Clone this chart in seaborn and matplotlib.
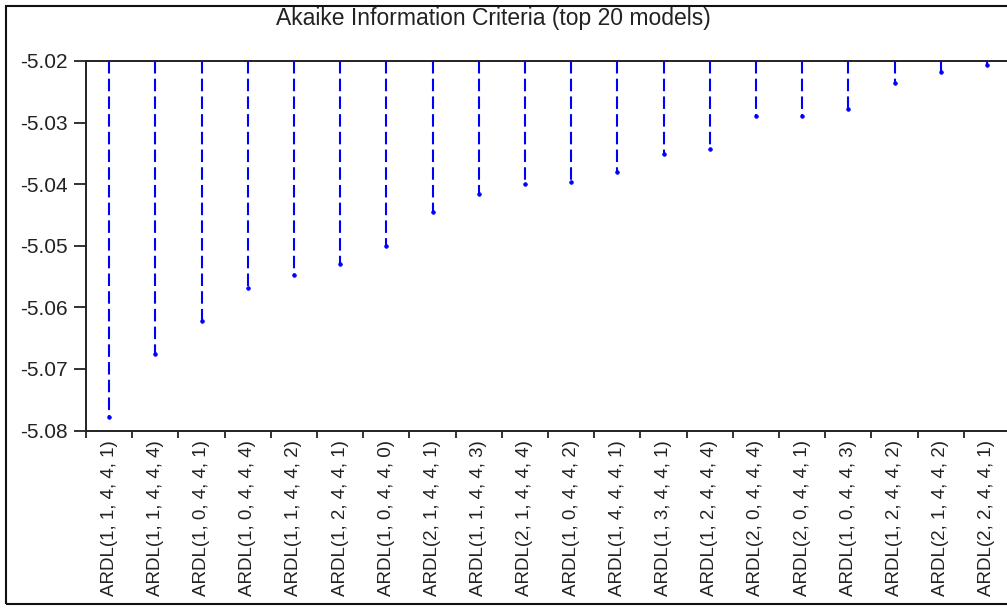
import matplotlib
matplotlib.use("Agg")
import matplotlib.pyplot as plt
import numpy as np
import pandas as pd
import seaborn as sns
from matplotlib.patches import Rectangle
from matplotlib.ticker import FixedLocator

# top 20 ARDL models ranked by AIC
models = [
    "ARDL(1, 1, 4, 4, 1)", "ARDL(1, 1, 4, 4, 4)", "ARDL(1, 0, 4, 4, 1)",
    "ARDL(1, 0, 4, 4, 4)", "ARDL(1, 1, 4, 4, 2)", "ARDL(1, 2, 4, 4, 1)",
    "ARDL(1, 0, 4, 4, 0)", "ARDL(2, 1, 4, 4, 1)", "ARDL(1, 1, 4, 4, 3)",
    "ARDL(2, 1, 4, 4, 4)", "ARDL(1, 0, 4, 4, 2)", "ARDL(1, 4, 4, 4, 1)",
    "ARDL(1, 3, 4, 4, 1)", "ARDL(1, 2, 4, 4, 4)", "ARDL(2, 0, 4, 4, 4)",
    "ARDL(2, 0, 4, 4, 1)", "ARDL(1, 0, 4, 4, 3)", "ARDL(1, 2, 4, 4, 2)",
    "ARDL(2, 1, 4, 4, 2)", "ARDL(2, 2, 4, 4, 1)",
]
aic = [
    -5.0778, -5.0676, -5.0622, -5.0569, -5.0548, -5.0530, -5.0501,
    -5.0446, -5.0416, -5.0399, -5.0397, -5.0380, -5.0351, -5.0343,
    -5.0289, -5.0290, -5.0278, -5.0236, -5.0218, -5.0207,
]
y_ticks = [-5.08, -5.07, -5.06, -5.05, -5.04, -5.03, -5.02]
y_top = -5.02
y_bottom = -5.08

df = pd.DataFrame({"model": models, "aic": aic})

sns.set_style("white")
plt.rcParams["font.family"] = ["Liberation Sans", "DejaVu Sans"]

W, H = 1007, 608
fig = plt.figure(figsize=(W / 100, H / 100), dpi=100)
ax = fig.add_axes([86 / W, 1 - 430.5 / H, 924 / W, (430.5 - 61) / H])

line_color = "#0000ff"
pos = np.arange(len(df))
ax.vlines(pos, y_top, df["aic"], colors=line_color, linewidth=1.5,
          linestyles=(0, (6, 2.5)))
sns.scatterplot(data=df, x="model", y="aic", ax=ax, color=line_color,
                marker="o", s=7, edgecolor=line_color, linewidth=0.5,
                zorder=3)

ax.set_xlim(-0.5, len(df) - 0.5)
ax.set_ylim(y_bottom, y_top)
ax.set_yticks(y_ticks)
ax.set_yticklabels([f"{v:.2f}" for v in y_ticks])
ax.set_xticks(pos)
ax.set_xticklabels(models, rotation=90, fontsize=13.5, color="#222222",
                   va="top", ha="center")
ax.xaxis.set_minor_locator(FixedLocator(np.arange(len(df) + 1) - 0.5))
ax.tick_params(axis="x", which="major", length=0, pad=7)
ax.tick_params(axis="x", which="minor", length=5, width=1.3,
               color="#222222", direction="out", bottom=True)
ax.tick_params(axis="y", which="major", length=9, width=1.3,
               color="#222222", direction="out", left=True,
               labelsize=15, labelcolor="#222222", pad=4)
ax.set_xlabel("")
ax.set_ylabel("")

for side in ["left", "top", "bottom", "right"]:
    ax.spines[side].set_color("#222222")
    ax.spines[side].set_linewidth(1.4)

fig.text(493.5 / W, 1 - 19 / H, "Akaike Information Criteria (top 20 models)",
         ha="center", va="center", fontsize=16.5, color="#222222")

# outer frame around the whole graph
fig.patches.append(Rectangle((6 / W, 4 / H), 1.0, 1 - 10 / H,
                             transform=fig.transFigure, fill=False,
                             edgecolor="#111111", linewidth=1.5))

fig.savefig("out.png", dpi=100)
